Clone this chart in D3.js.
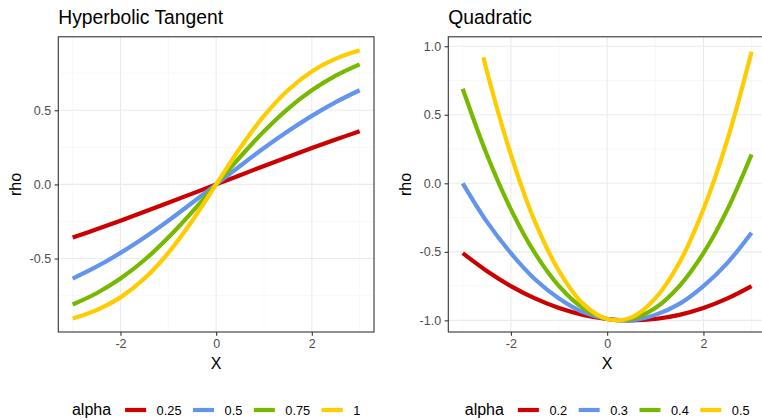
<!DOCTYPE html>
<html>
<meta charset="UTF-8">
    <head>
        <script src="https://d3js.org/d3.v7.min.js"></script>
        <style>
            body {
                margin: 0;
                background: white;
                font-family: "Liberation Sans", Arial, sans-serif;
            }
        </style>
    </head>
    <body>
    </body>
    <script>
        // shared x grid (every 0.5)
        let xs = [-3, -2.5, -2, -1.5, -1, -0.5, 0, 0.5, 1, 1.5, 2, 2.5, 3];

        // Hyperbolic Tangent panel
        let tanhAlphas = ["0.25", "0.5", "0.75", "1"];
        let tanh025 = [-0.358, -0.303, -0.245, -0.185, -0.124, -0.062, 0, 0.062, 0.124, 0.185, 0.245, 0.303, 0.358];
        let tanh05  = [-0.635, -0.555, -0.462, -0.358, -0.245, -0.124, 0, 0.124, 0.245, 0.358, 0.462, 0.555, 0.635];
        let tanh075 = [-0.810, -0.734, -0.635, -0.510, -0.358, -0.185, 0, 0.185, 0.358, 0.510, 0.635, 0.734, 0.810];
        let tanh1   = [-0.905, -0.848, -0.762, -0.635, -0.462, -0.245, 0, 0.245, 0.462, 0.635, 0.762, 0.848, 0.905];

        // Quadratic panel
        let quadAlphas = ["0.2", "0.3", "0.4", "0.5"];
        let quad02 = [-0.51, -0.64, -0.75, -0.84, -0.91, -0.96, -0.99, -1.00, -0.99, -0.96, -0.91, -0.84, -0.75];
        let quad03 = [0.00, -0.28, -0.51, -0.70, -0.84, -0.94, -0.99, -1.00, -0.96, -0.88, -0.75, -0.58, -0.36];
        let quad04 = [0.69, 0.21, -0.19, -0.51, -0.75, -0.91, -0.99, -0.99, -0.91, -0.75, -0.51, -0.19, 0.21];
        // the 0.5 curve leaves the top of the range, so it starts later
        let quad05X = [-2.57, -2.5, -2, -1.5, -1, -0.5, 0, 0.5, 1, 1.5, 2, 2.5, 3];
        let quad05 = [0.92, 0.82, 0.21, -0.28, -0.64, -0.88, -0.99, -0.98, -0.84, -0.58, -0.19, 0.32, 0.96];

        let colors = ["#CC0000", "#6495ED", "#76B900", "#FFCC00"];

        let width = 762;
        let height = 420;

        let svg = d3.select("body").append("svg")
            .attr("width", width)
            .attr("height", height)
            .style("display", "block");

        svg.append("rect")
            .attr("width", width)
            .attr("height", height)
            .attr("fill", "white");

        function drawPanel(opts){
            let g = svg.append("g");
            let left = opts.left, right = opts.right, top = 36.8, bottom = 332;

            let x = d3.scaleLinear().domain([-3.3, 3.3]).range([left, right]);
            let y = d3.scaleLinear().domain(opts.yDomain).range([bottom, top]);

            // minor grid
            let minorX = [-3, -1, 1, 3];
            g.selectAll(".gxm").data(minorX).join("line")
                .attr("x1", d => x(d)).attr("x2", d => x(d))
                .attr("y1", top).attr("y2", bottom)
                .attr("stroke", "#F2F2F2").attr("stroke-width", 0.55);
            g.selectAll(".gym").data(opts.minorY).join("line")
                .attr("x1", left).attr("x2", right)
                .attr("y1", d => y(d)).attr("y2", d => y(d))
                .attr("stroke", "#F2F2F2").attr("stroke-width", 0.55);

            // major grid
            let majorX = [-2, 0, 2];
            g.selectAll(".gx").data(majorX).join("line")
                .attr("x1", d => x(d)).attr("x2", d => x(d))
                .attr("y1", top).attr("y2", bottom)
                .attr("stroke", "#EBEBEB").attr("stroke-width", 1.1);
            g.selectAll(".gy").data(opts.majorY).join("line")
                .attr("x1", left).attr("x2", right)
                .attr("y1", d => y(d)).attr("y2", d => y(d))
                .attr("stroke", "#EBEBEB").attr("stroke-width", 1.1);

            // curves
            let line = d3.line()
                .x(d => x(d[0]))
                .y(d => y(d[1]))
                .curve(d3.curveCatmullRom);

            opts.series.forEach((s, i) => {
                let pts = s.xs.map((v, j) => [v, s.ys[j]]);
                g.append("path")
                    .attr("d", line(pts))
                    .attr("fill", "none")
                    .attr("stroke", colors[i])
                    .attr("stroke-width", 4.2)
                    .attr("stroke-linecap", "butt")
                    .attr("stroke-linejoin", "round");
            });

            // panel border
            g.append("rect")
                .attr("x", left).attr("y", top)
                .attr("width", right - left).attr("height", bottom - top)
                .attr("fill", "none")
                .attr("stroke", "#333333")
                .attr("stroke-width", 1.1);

            // axes
            let xAxis = g.append("g")
                .attr("transform", `translate(0,${bottom})`)
                .call(d3.axisBottom(x).tickValues(majorX).tickSize(3.7).tickPadding(3)
                    .tickFormat(d3.format("d")));
            let yAxis = g.append("g")
                .attr("transform", `translate(${left},0)`)
                .call(d3.axisLeft(y).tickValues(opts.majorY).tickSize(3.7).tickPadding(3.5)
                    .tickFormat(d3.format(".1f")));

            [xAxis, yAxis].forEach(a => {
                a.select(".domain").remove();
                a.selectAll(".tick line").attr("stroke", "#333333").attr("stroke-width", 1.1);
                a.selectAll(".tick text")
                    .attr("fill", "#4D4D4D")
                    .style("font-family", "Liberation Sans")
                    .style("font-size", "12.5px");
            });
            // ggplot uses a hyphen as the minus sign
            g.selectAll(".tick text").text(function(){ return this.textContent.replace("\u2212", "-"); });

            // title
            g.append("text")
                .attr("x", left)
                .attr("y", 24)
                .attr("fill", "black")
                .style("font-size", "19.3px")
                .text(opts.title);

            // axis titles
            g.append("text")
                .attr("x", (left + Math.min(right, width)) / 2 + (right > width ? (right - width) / 2 : 0))
                .attr("y", 368.5)
                .attr("text-anchor", "middle")
                .style("font-size", "16px")
                .text("X");
            g.append("text")
                .attr("transform", `translate(${opts.yLabelX},${(top + bottom) / 2}) rotate(-90)`)
                .attr("text-anchor", "middle")
                .style("font-size", "16px")
                .text("rho");

            // legend
            let leg = g.append("g");
            let cx = 0;
            let title = leg.append("text")
                .attr("x", cx).attr("y", 415)
                .style("font-size", "16px")
                .text("alpha");
            cx += title.node().getComputedTextLength() + 14;
            opts.labels.forEach((lab, i) => {
                leg.append("line")
                    .attr("x1", cx).attr("x2", cx + 21)
                    .attr("y1", 410).attr("y2", 410)
                    .attr("stroke", colors[i])
                    .attr("stroke-width", 4.2);
                cx += 21 + 10.5;
                let t = leg.append("text")
                    .attr("x", cx).attr("y", 414.5)
                    .attr("fill", "black")
                    .style("font-size", "12.8px")
                    .text(lab);
                cx += t.node().getComputedTextLength() + 11.5;
            });
            cx -= 11.5;
            leg.attr("transform", `translate(${(left + right) / 2 - cx / 2},0)`);
        }

        drawPanel({
            title: "Hyperbolic Tangent",
            left: 58.3,
            right: 374,
            yDomain: [-0.9955, 0.9955],
            majorY: [-0.5, 0, 0.5],
            minorY: [-0.75, -0.25, 0.25, 0.75],
            yLabelX: 20.6,
            labels: tanhAlphas,
            series: [
                {xs: xs, ys: tanh025},
                {xs: xs, ys: tanh05},
                {xs: xs, ys: tanh075},
                {xs: xs, ys: tanh1}
            ]
        });

        drawPanel({
            title: "Quadratic",
            left: 448.3,
            right: 766,
            yDomain: [-1.085, 1.069],
            majorY: [-1, -0.5, 0, 0.5, 1],
            minorY: [-0.75, -0.25, 0.25, 0.75],
            yLabelX: 411,
            labels: quadAlphas,
            series: [
                {xs: xs, ys: quad02},
                {xs: xs, ys: quad03},
                {xs: xs, ys: quad04},
                {xs: quad05X, ys: quad05}
            ]
        });
    </script>
</html>
